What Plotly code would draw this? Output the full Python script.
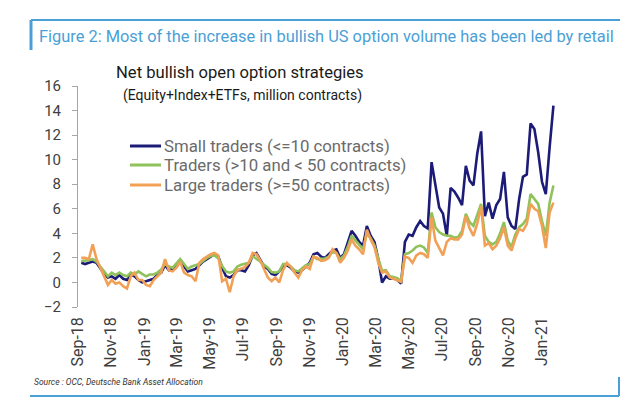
import pandas as pd
import plotly.graph_objects as go

# ---------------- data (weekly, million contracts) ----------------
start_date = "2018-09-07"

small_traders = [
    1.6, 1.5, 1.6, 1.7, 1.6, 1.1, 0.7, 0.4, 0.5, 0.3,
    0.6, 0.3, 0.2, 0.6, 0.5, 0.2, 0.0, 0.1, 0.2, 0.3,
    0.6, 0.8, 1.4, 1.0, 1.1, 1.3, 1.7, 1.3, 0.9, 1.0,
    1.1, 1.4, 1.7, 1.9, 2.1, 2.3, 2.1, 1.2, 0.5, 0.4,
    0.6, 1.0, 1.0, 0.9, 1.4, 2.2, 2.4, 1.9, 1.3, 1.1,
    0.7, 0.6, 0.9, 1.3, 1.4, 1.2, 0.9, 0.8, 1.0, 1.3,
    1.6, 2.3, 2.4, 2.1, 2.0, 2.3, 2.6, 2.7, 2.0, 2.3,
    3.3, 4.2, 3.8, 3.3, 3.0, 4.6, 3.8, 3.3, 1.9, 0.0,
    0.5, 0.3, 0.35, 0.2, -0.1, 3.3, 3.9, 3.8, 4.5, 5.0,
    4.6, 4.4, 9.8, 7.8, 6.1, 5.6, 3.8, 7.7, 7.4, 6.9,
    6.3, 9.5, 8.3, 7.9, 10.5, 12.3, 5.4, 6.5, 5.2, 6.3,
    6.8, 9.0, 5.3, 4.6, 4.35, 6.8, 8.6, 8.8, 12.95, 12.5,
    10.6, 8.2, 7.2, 11.0, 14.4,
]

mid_traders = [
    1.75, 1.75, 1.8, 1.9, 1.7, 1.3, 0.9, 0.5, 0.8, 0.6,
    0.8, 0.6, 0.5, 0.8, 0.65, 0.9, 0.7, 0.5, 0.65, 0.65,
    0.8, 1.05, 1.5, 1.3, 1.2, 1.6, 1.9, 1.5, 1.1, 1.3,
    1.4, 1.5, 1.75, 2.0, 2.15, 2.2, 1.95, 1.35, 0.9, 0.8,
    0.9, 1.3, 1.45, 1.5, 1.6, 2.15, 1.95, 1.7, 1.45, 1.2,
    0.85, 0.8, 0.9, 1.5, 1.5, 1.3, 1.0, 0.9, 1.15, 1.4,
    1.5, 2.1, 1.9, 1.9, 1.95, 2.1, 2.5, 2.4, 1.9, 2.2,
    2.9, 3.8, 3.4, 3.0, 2.7, 4.0, 3.6, 3.0, 1.9, 0.95,
    1.0, 0.5, 0.45, 0.35, 0.1, 2.3, 2.4, 2.6, 2.9, 3.0,
    2.85, 2.4, 5.7, 4.5, 4.1, 3.9, 3.8, 3.8, 3.65, 3.7,
    4.2, 5.6, 4.9, 4.6, 5.5, 6.4, 3.8, 3.3, 3.1, 3.3,
    4.0, 4.9, 3.4, 2.9, 3.9, 4.5, 4.75, 5.2, 7.2, 6.8,
    6.4, 5.0, 3.8, 6.5, 7.9,
]

large_traders = [
    2.0, 2.0, 1.9, 3.1, 1.9, 1.2, 0.6, -0.2, 0.2, -0.1,
    0.0, -0.3, -0.5, 0.5, 0.8, 0.2, 0.2, -0.2, -0.3, 0.2,
    0.5, 0.8, 1.9, 1.0, 0.9, 1.2, 1.7, 0.8, 0.6, 0.5,
    0.1, 1.6, 1.9, 2.1, 2.3, 2.4, 2.2, 0.1, 0.3, -0.8,
    0.5, 1.0, 1.1, 1.25, 1.6, 2.4, 2.3, 1.8, 1.1, 0.4,
    0.1, 0.4, 0.0, 1.0, 1.6, 1.3, 0.8, 0.4, 1.0, 1.3,
    1.1, 2.1, 2.0, 1.75, 1.8, 2.0, 2.7, 2.4, 1.6, 2.0,
    2.6, 3.5, 3.0, 2.7, 2.3, 4.3, 3.5, 2.9, 1.6, 0.8,
    0.9, 0.4, 0.3, 0.2, 0.05, 2.1, 2.0, 1.6, 2.2, 2.4,
    2.3, 2.0, 5.3, 3.4, 2.8, 2.2, 3.3, 3.6, 3.5, 3.5,
    3.9, 5.4, 4.4, 3.8, 4.8, 6.2, 3.0, 3.2, 2.7, 3.0,
    3.6, 4.5, 3.0, 2.6, 3.6, 4.35, 4.2, 4.75, 6.4, 6.0,
    5.8, 4.6, 2.8, 5.7, 6.5,
]

series_names = [
    "Small traders (<=10 contracts)",
    "Traders (>10 and < 50 contracts)",
    "Large traders (>=50 contracts)",
]
series_colors = ["#1c1c78", "#8fc25a", "#f2a056"]

left_range = [-2, 16]
right_range = [-2, 14]
x_range = ["2018-09-01", "2021-02-27"]
tick_start = "2018-09-01"

heading = "Figure 2: Most of the increase in bullish US option volume has been led by retail"
chart_title = "Net bullish open option strategies"
chart_subtitle = "(Equity+Index+ETFs, million contracts)"
source_text = "Source : OCC, Deutsche Bank Asset Allocation"

# ---------------- layout helpers ----------------
# the page body has an 8px margin, so the figure is 16px smaller than the window
OFF = 8
W, H = 624, 400
PLOT_X0, PLOT_X1, PLOT_Y0, PLOT_Y1 = 78, 573, 86, 307   # in window pixels
L, T = PLOT_X0 - OFF, PLOT_Y0 - OFF
R, B = W - (PLOT_X1 - OFF), H - (PLOT_Y1 - OFF)
PW, PH = W - L - R, H - T - B


def px(x):
    return (x - OFF - L) / PW


def py(y):
    return (H - B - (y - OFF)) / PH


FONT = "Roboto, 'Liberation Sans', Arial, sans-serif"
AXIS_COL = "#a6a6a6"
TICK_FONT_COL = "#404040"
BLUE = "#4a9fd6"

dates = pd.date_range(start_date, periods=len(small_traders), freq="7D")

fig = go.Figure()
for name, vals, col in zip(series_names, [small_traders, mid_traders, large_traders], series_colors):
    fig.add_trace(go.Scatter(x=dates, y=vals, name=name, mode="lines",
                             line=dict(color=col, width=2.6), showlegend=False))

fig.update_layout(
    width=W, height=H,
    margin=dict(l=L, r=R, t=T, b=B, pad=0, autoexpand=False),
    paper_bgcolor="white", plot_bgcolor="white",
    font=dict(family=FONT, color=TICK_FONT_COL),
    showlegend=False,
    xaxis=dict(type="date", range=x_range, tick0=tick_start, dtick="M2",
               tickformat="%b-%y", tickangle=-90, showline=False, ticks="",
               showgrid=False, zeroline=False, ticklabelstandoff=6, automargin=False,
               tickfont=dict(size=16, color=TICK_FONT_COL)),
    xaxis2=dict(type="date", range=x_range, overlaying="x", matches="x",
                anchor="free", position=(0 - left_range[0]) / (left_range[1] - left_range[0]),
                tick0=tick_start, dtick="M2", showline=True, linecolor=AXIS_COL,
                linewidth=1, ticks="outside", ticklen=5, tickcolor=AXIS_COL,
                showticklabels=False, showgrid=False, zeroline=False, automargin=False),
    yaxis=dict(range=left_range, dtick=2, tick0=0, showline=True, linecolor=AXIS_COL,
               ticks="outside", ticklen=5, tickcolor=AXIS_COL, showgrid=False,
               zeroline=False, ticklabelstandoff=8, automargin=False,
               tickfont=dict(size=15, color=TICK_FONT_COL)),
    yaxis2=dict(range=right_range, dtick=2, tick0=0, overlaying="y", side="right",
                anchor="x", showline=True, linecolor=AXIS_COL, ticks="outside",
                ticklen=5, tickcolor=AXIS_COL, showgrid=False, zeroline=False,
                ticklabelstandoff=8, automargin=False,
                tickfont=dict(size=15, color=TICK_FONT_COL)),
)

anns = [
    dict(text=heading, x=px(37), y=py(37), xanchor="left", yanchor="middle",
         font=dict(size=16.4, color=BLUE)),
    dict(text=chart_title, x=px(240), y=py(72), xanchor="center", yanchor="middle",
         font=dict(size=16.6, color="#1a1a1a")),
    dict(text=chart_subtitle, x=px(242), y=py(95), xanchor="center", yanchor="middle",
         font=dict(size=14, color="#1a1a1a")),
    dict(text="<i>" + source_text + "</i>", x=px(32), y=py(382), xanchor="left",
         yanchor="middle", font=dict(size=8.5, color="#333333")),
]
for a in anns:
    fig.add_annotation(xref="paper", yref="paper", showarrow=False, **a)

# custom legend (sample line + label)
legend_rows_y = [146, 165, 185]
for name, col, ry in zip(series_names, series_colors, legend_rows_y):
    fig.add_shape(type="line", xref="paper", yref="paper", x0=px(130), x1=px(161),
                  y0=py(ry), y1=py(ry), line=dict(color=col, width=3))
    fig.add_annotation(xref="paper", yref="paper", showarrow=False, text=name,
                       x=px(162), y=py(ry), xanchor="left", yanchor="middle",
                       font=dict(size=16.8, color="#6b6b6b"))

shapes = [
    dict(x0=px(31), x1=px(620), y0=py(20), y1=py(20), width=2),
    dict(x0=px(31), x1=px(31), y0=py(20), y1=py(50), width=3),
    dict(x0=px(30), x1=px(619), y0=py(396), y1=py(396), width=2),
    dict(x0=px(619), x1=px(619), y0=py(377), y1=py(396), width=2),
]
for s in shapes:
    fig.add_shape(type="line", xref="paper", yref="paper", x0=s["x0"], x1=s["x1"],
                  y0=s["y0"], y1=s["y1"], line=dict(color=BLUE, width=s["width"]))

fig.write_html("out.html")
